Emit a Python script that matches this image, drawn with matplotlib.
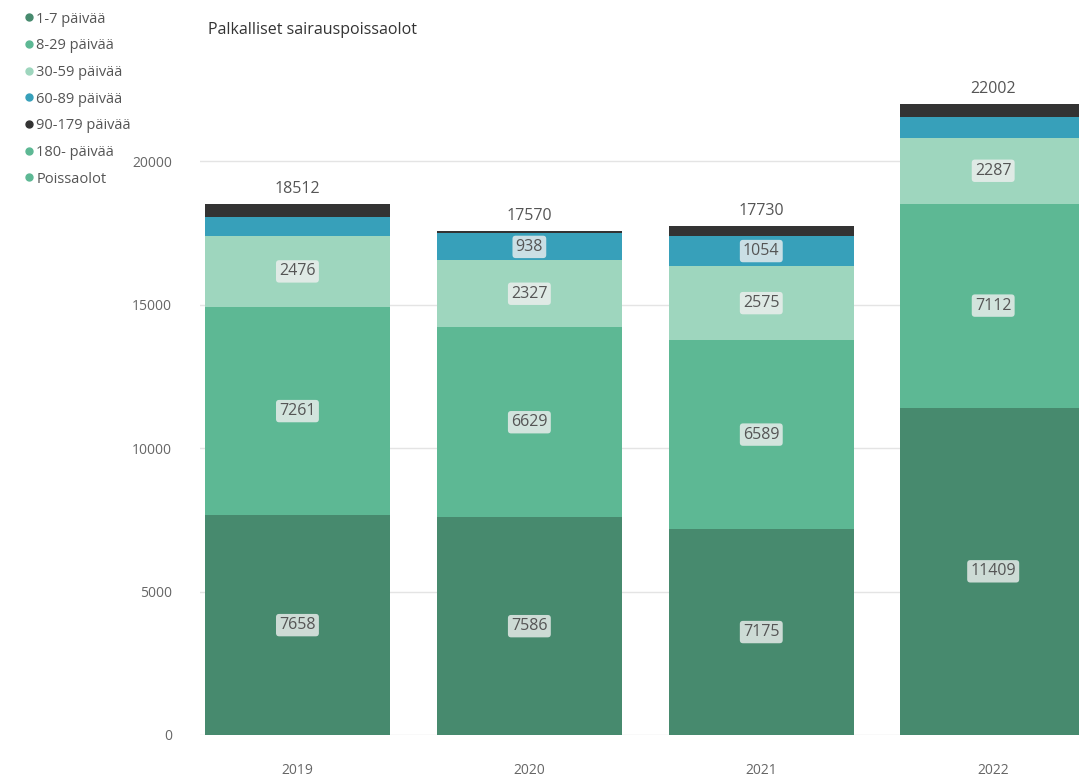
import numpy as np
import matplotlib.pyplot as plt
from matplotlib.lines import Line2D

plt.rcParams['font.family'] = ['Open Sans', 'DejaVu Sans']

years = ['2019', '2020', '2021', '2022']
series_names = ['1-7 päivää', '8-29 päivää', '30-59 päivää', '60-89 päivää',
                '90-179 päivää', '180- päivää']
d1_7 = [7658, 7586, 7175, 11409]
d8_29 = [7261, 6629, 6589, 7112]
d30_59 = [2476, 2327, 2575, 2287]
d60_89 = [650, 938, 1054, 720]
d90_179 = [467, 90, 337, 474]
d180 = [0, 0, 0, 0]
totals = [18512, 17570, 17730, 22002]  # Poissaolot

colors = ['#478a6e', '#5db894', '#9ed6be', '#37a0ba', '#333333', '#5db894']
legend_colors = colors + ['#5db894']

fig = plt.figure(figsize=(10.79, 7.81), dpi=100)
ax = fig.add_axes([0.1854, 0.0589, 0.8146, 0.845])

x = np.arange(len(years))
bottom = np.zeros(len(years))
for name, vals, col in zip(series_names,
                           [d1_7, d8_29, d30_59, d60_89, d90_179, d180], colors):
    vals = np.array(vals, dtype=float)
    ax.bar(x, vals, 0.8, bottom=bottom, color=col, zorder=2)
    for xi, b, v in zip(x, bottom, vals):
        if v > 800:
            ax.text(xi, b + v / 2, str(int(v)), ha='center', va='center',
                    fontsize=11.5, color='#555555', zorder=3,
                    bbox=dict(boxstyle='round,pad=0.2', fc='#f0f0f0', ec='none', alpha=0.8))
    bottom += vals

for xi, t in zip(x, totals):
    ax.text(xi, t + 250, str(t), ha='center', va='bottom', fontsize=11.5, color='#555555')

ax.set_xlim(-0.42, 3.37)
ax.set_ylim(0, 23000)
ax.set_yticks([0, 5000, 10000, 15000, 20000])
ax.yaxis.grid(True, color='#e4e4e4', linewidth=1, zorder=0)
ax.set_axisbelow(True)
for s in ax.spines.values():
    s.set_visible(False)
ax.tick_params(axis='y', length=0, pad=20, labelsize=10, labelcolor='#666666')
ax.tick_params(axis='x', length=0, pad=20, labelsize=10, labelcolor='#666666')
ax.set_xticks(x)
ax.set_xticklabels(years)

fig.text(0.193, 0.962, 'Palkalliset sairauspoissaolot', fontsize=11.5, color='#333333',
         ha='left', va='center')

handles = [Line2D([], [], marker='o', linestyle='none', markersize=5, color=c)
           for c in legend_colors]
fig.legend(handles, series_names + ['Poissaolot'], loc='upper left',
           bbox_to_anchor=(0.008, 1.002), frameon=False, fontsize=10.5,
           handletextpad=0.0, labelspacing=0.8, handlelength=1.0,
           labelcolor='#555555')

fig.savefig('out.png', dpi=100)
